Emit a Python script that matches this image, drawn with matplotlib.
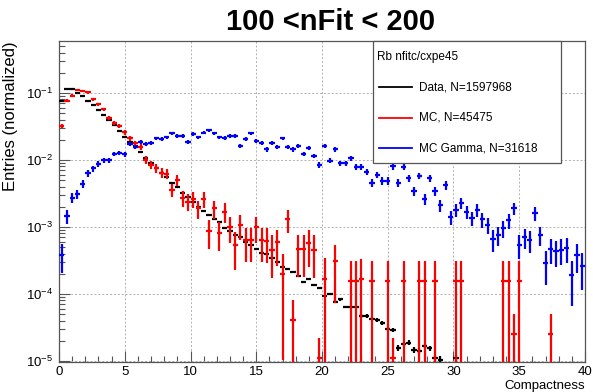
#Compactness distributions for 100 < nFit < 200 (ROOT style log plot)

import numpy as np
import matplotlib.pyplot as plt
from matplotlib.patches import Rectangle
from matplotlib.lines import Line2D

plt.rcParams['font.family'] = ['Liberation Sans', 'DejaVu Sans']
plt.rcParams['mathtext.default'] = 'regular'

#binning: 100 bins from 0 to 40
bin_width = 0.4
bin_centers = np.arange(100) * bin_width + bin_width / 2

#Data, N=1597968
data_vals = [0.075, 0.116, 0.116, 0.100, 0.090, 0.075, 0.066, 0.056, 0.047, 0.040,
             0.033, 0.027, 0.022, 0.0185, 0.016, 0.013, 0.0106, 0.0089, 0.0077, 0.0065,
             0.0055, 0.0046, 0.0039, 0.0032, 0.0028, 0.0024, 0.0020, 0.00176, 0.00152, 0.00132,
             0.00118, 0.00098, 0.00086, 0.00076, 0.00070, 0.00060, 0.00054, 0.00047, 0.00041, 0.00039,
             0.00035, 0.00030, 0.00025, 0.00024, 0.00021, 0.000187, 0.000151, 0.000165, 0.000134, 0.000125,
             9.3e-5, 1.0e-4, 7.7e-5, 8.3e-5, 6.4e-5, 6.4e-5, 6.4e-5, 4.7e-5, 4.7e-5, 4.3e-5,
             4.1e-5, 3.7e-5, 3.0e-5, 2.9e-5, 1.57e-5, 1.77e-5, 1.88e-5, 1.45e-5, 1.4e-5, 1.65e-5,
             1.55e-5, 1.1e-5, 1.05e-5, 0, 0, 1.1e-5, 0, 0, 0, 0,
             0, 0, 0, 0, 0, 0, 0, 0, 0, 0,
             0, 0, 0, 0, 0, 0, 0, 0, 0, 0]

#MC, N=45475
mc_vals = [0.032, 0.077, 0.091, 0.111, 0.108, 0.102, 0.081, 0.068, 0.057, 0.043,
           0.036, 0.0325, 0.026, 0.021, 0.0177, 0.0158, 0.0100, 0.0085, 0.0075, 0.0064,
           0.0062, 0.0036, 0.0050, 0.0027, 0.0024, 0.0026, 0.0019, 0.0026, 0.00087, 0.0019,
           0.00082, 0.0017, 0.0010, 0.00054, 0.00107, 0.00064, 0.00064, 0.0010, 0.00064, 0.00062,
           0.00046, 0.00059, 0.00020, 0.0013, 4.1e-5, 0.00047, 0.00047, 0.00058, 0.00046, 1.1e-5,
           0.00017, 0, 0.00031, 0, 0, 1.58e-4, 1.58e-4, 1.65e-4, 0, 1.58e-4,
           0, 0, 1.58e-4, 1.1e-5, 0, 1.58e-4, 0, 0, 1.58e-4, 1.58e-4,
           0, 1.58e-4, 0, 0, 0, 1.58e-4, 1.58e-4, 0, 0, 0,
           0, 0, 0, 0, 1.58e-4, 1.58e-4, 2.5e-5, 1.58e-4, 0, 0,
           0, 0, 0, 2.5e-5, 0, 0, 0, 0, 0, 0]

#MC Gamma, N=31618
gamma_vals = [0.00038, 0.00145, 0.00274, 0.0031, 0.0044, 0.0063, 0.0075, 0.0087, 0.0100, 0.0100,
              0.0123, 0.0128, 0.0122, 0.0174, 0.0155, 0.0188, 0.0172, 0.0177, 0.021, 0.0204,
              0.0218, 0.025, 0.023, 0.023, 0.0188, 0.0244, 0.0218, 0.0256, 0.028, 0.025,
              0.0218, 0.0215, 0.023, 0.0228, 0.0164, 0.0206, 0.025, 0.0192, 0.0177, 0.0144,
              0.018, 0.0158, 0.021, 0.0158, 0.0144, 0.0162, 0.0123, 0.0153, 0.0115, 0.0084,
              0.0162, 0.0098, 0.0144, 0.0089, 0.0089, 0.0106, 0.0078, 0.0078, 0.0067, 0.0046,
              0.006, 0.0049, 0.0049, 0.0080, 0.0046, 0.0078, 0.0053, 0.0034, 0.0058, 0.0026,
              0.0053, 0.0034, 0.0021, 0.0042, 0.0014, 0.0018, 0.0023, 0.0017, 0.00135, 0.00179,
              0.0013, 0.00107, 0.00066, 0.00076, 0.00095, 0.00126, 0.0019, 0.00054, 0.00071, 0.00064,
              0.0016, 0.00076, 0.00029, 0.00047, 0.00044, 0.00046, 0.00049, 0.00019, 0.00038, 0.00026]

#approximate weight of a single entry in each normalized histogram (for errors)
data_unit = 1.5e-7
mc_unit = 1.8e-4
gamma_unit = 8e-5

series = [
    ("Data, N=1597968", data_vals, data_unit, "black"),
    ("MC, N=45475", mc_vals, mc_unit, "#ff0000"),
    ("MC Gamma, N=31618", gamma_vals, gamma_unit, "#0000ff"),
]

fig = plt.figure(figsize=(5.93, 3.92), dpi=100)
ax = fig.add_axes([0.0995, 0.0765, 0.887, 0.8189])

for label, vals, unit, color in series:
    y = np.array(vals, dtype=float)
    keep = y > 0
    x = bin_centers[keep]
    y = y[keep]
    err = np.minimum(np.sqrt(y * unit), y)
    lo = np.minimum(err, y - 1e-8)
    ax.errorbar(x, y, xerr=bin_width / 2, yerr=[lo, err], fmt='none',
                ecolor=color, elinewidth=1.6, capsize=0, zorder=3)

ax.set_yscale('log')
ax.set_xlim(0, 40)
ax.set_ylim(9.66e-6, 0.597)

ax.set_xticks(np.arange(0, 41, 5))
ax.set_xticks(np.arange(0, 41, 1), minor=True)
ax.tick_params(axis='both', which='both', direction='in', top=False, right=False,
               labelsize=9.5, color='#555555')
ax.tick_params(axis='both', which='major', length=8, width=0.8)
ax.tick_params(axis='both', which='minor', length=4, width=0.8)
ax.tick_params(axis='x', which='major', pad=3)
ax.tick_params(axis='y', which='major', pad=4)

ax.grid(True, which='major', color='#b0b0b0', linestyle=(0, (2, 2)), linewidth=0.7)
ax.set_axisbelow(True)
for sp in ax.spines.values():
    sp.set_color('#555555')
    sp.set_linewidth(0.9)

#axis titles, ROOT style (aligned to the end of the axis)
fig.text(0.9865, 0.008, "Compactness", ha='right', va='baseline', fontsize=9.5)
fig.text(0.018, 0.8954, "Entries (normalized)", ha='center', va='top',
         rotation=90, fontsize=12)

fig.text(0.558, 0.945, "100 <nFit < 200", ha='center', va='center',
         fontsize=21, fontweight='bold')

#legend box
leg_x0, leg_x1 = 0.629, 0.946
leg_y0, leg_y1 = 0.584, 0.8954
fig.patches.append(Rectangle((leg_x0, leg_y0), leg_x1 - leg_x0, leg_y1 - leg_y0,
                             transform=fig.transFigure, facecolor='white',
                             edgecolor='#555555', linewidth=0.9, zorder=5))
fig.text(0.636, 0.855, "Rb nfitc/cxpe45", ha='left', va='center', fontsize=8.5, zorder=6)
entry_y = [0.778, 0.699, 0.622]
for (label, vals, unit, color), ey in zip(series, entry_y):
    fig.lines.append(Line2D([0.639, 0.695], [ey, ey], transform=fig.transFigure,
                            color=color, linewidth=1.3, zorder=6))
    fig.text(0.7066, ey, label, ha='left', va='center', fontsize=8.5, zorder=6)

plt.savefig("out.png", dpi=100)
